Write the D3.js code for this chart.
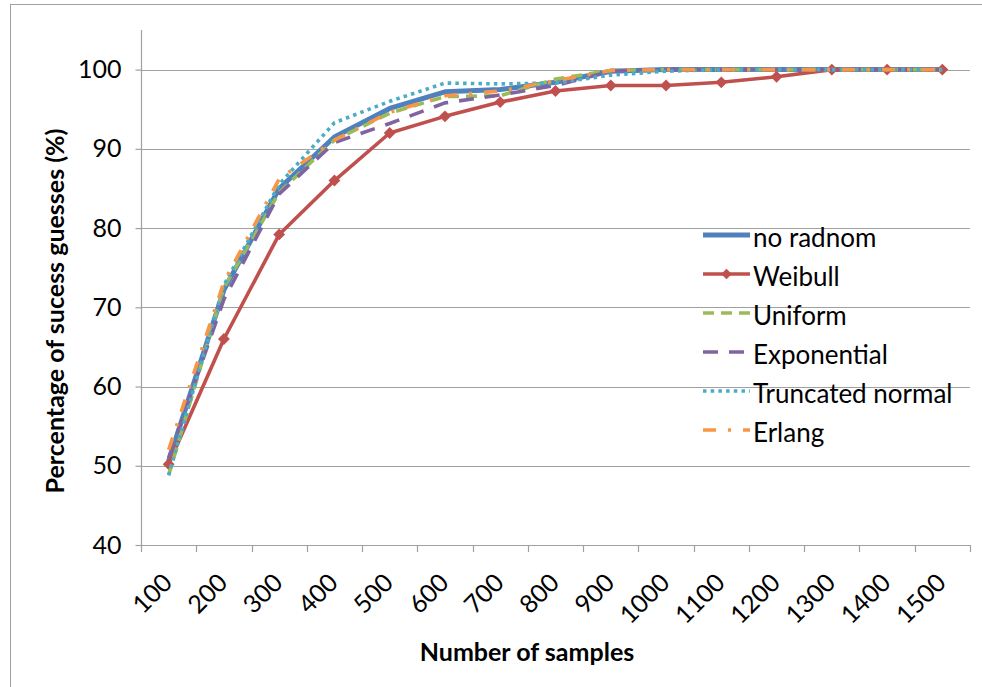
<!DOCTYPE html>
<html>
<head>
<meta charset="utf-8">
<script src="https://cdn.jsdelivr.net/npm/d3@7"></script>
<style>
  html, body { margin: 0; padding: 0; background: #ffffff; }
  svg { display: block; }
  text { font-family: Lato, "Open Sans", sans-serif; fill: #000; }
</style>
</head>
<body>
<svg id="chart" width="982" height="687"></svg>
<script>
// Sample sizes along the x axis
const categories = [100, 200, 300, 400, 500, 600, 700, 800, 900, 1000, 1100, 1200, 1300, 1400, 1500];

// Success rate (%) for each randomisation scheme
const noRandom    = [50.6, 72.2, 85.0, 91.5, 95.1, 97.2, 97.5, 98.4, 99.8, 100, 100, 100, 100, 100, 100];
const weibull     = [50.2, 66.0, 79.2, 86.0, 92.0, 94.1, 95.9, 97.3, 98.0, 98.0, 98.4, 99.1, 100, 100, 100];
const uniform     = [48.8, 72.5, 84.5, 91.1, 94.5, 96.6, 96.7, 98.8, 99.9, 100, 100, 100, 100, 100, 100];
const exponential = [51.0, 71.0, 84.3, 90.8, 93.2, 95.8, 96.8, 98.0, 99.8, 100, 100, 100, 100, 100, 100];
const truncNormal = [48.8, 72.8, 85.5, 93.3, 96.0, 98.3, 98.2, 98.3, 99.3, 99.8, 100, 100, 100, 100, 100];
const erlang      = [52.0, 73.2, 86.2, 91.1, 94.6, 96.7, 97.3, 98.6, 99.9, 100, 100, 100, 100, 100, 100];

const seriesNames = ["no radnom", "Weibull", "Uniform", "Exponential", "Truncated normal", "Erlang"];
const yTicks = [40, 50, 60, 70, 80, 90, 100];

const seriesStyle = [
  { color: "#4F81BD", width: 5,   dash: null },
  { color: "#C0504D", width: 3.6, dash: null, marker: true },
  { color: "#9BBB59", width: 3.6, dash: "11,7" },
  { color: "#8064A2", width: 3.6, dash: "15,11" },
  { color: "#4BACC6", width: 3.6, dash: "3.5,4.2" },
  { color: "#F79646", width: 3.6, dash: "13,12,3,12" }
];
const seriesValues = [noRandom, weibull, uniform, exponential, truncNormal, erlang];

const svg = d3.select("#chart");

// Chart frame
svg.append("rect")
  .attr("x", 10.5).attr("y", 4.5)
  .attr("width", 1000).attr("height", 700)
  .attr("fill", "#fff").attr("stroke", "#a0a0a0").attr("stroke-width", 1);

const plot = { left: 141, right: 970, top: 30, bottom: 545 };

const x = d3.scaleBand().domain(categories).range([plot.left, plot.right]).padding(0);
const y = d3.scaleLinear().domain([40, 105]).range([plot.bottom, plot.top]);
const cx = c => x(c) + x.bandwidth() / 2;

// Horizontal gridlines
svg.append("g").selectAll("line").data(yTicks.filter(t => t > 40)).join("line")
  .attr("x1", plot.left).attr("x2", plot.right)
  .attr("y1", d => Math.round(y(d)) + 0.5).attr("y2", d => Math.round(y(d)) + 0.5)
  .attr("stroke", "#a0a0a0").attr("stroke-width", 1.2);

// Y axis
const yAxis = svg.append("g")
  .attr("transform", `translate(${plot.left + 0.5},0)`)
  .call(d3.axisLeft(y).tickValues(yTicks).tickSize(6).tickPadding(14).tickFormat(d3.format("d")));
yAxis.select(".domain").attr("stroke", "#a0a0a0").attr("stroke-width", 1.2)
  .attr("d", `M-0,${plot.top}V${plot.bottom}`);
yAxis.selectAll(".tick line").attr("stroke", "#a0a0a0").attr("stroke-width", 1.2);
yAxis.selectAll(".tick text")
  .style("font-family", "Lato, sans-serif").style("font-size", "25px").attr("fill", "#000");

// X axis line and tick marks at category boundaries
const xg = svg.append("g");
xg.append("line")
  .attr("x1", plot.left).attr("x2", plot.right)
  .attr("y1", plot.bottom + 0.5).attr("y2", plot.bottom + 0.5)
  .attr("stroke", "#a0a0a0").attr("stroke-width", 1.2);
const edges = categories.map(c => x(c)).concat([x(categories[categories.length - 1]) + x.bandwidth()]);
xg.selectAll("line.tick").data(edges).join("line")
  .attr("class", "tick")
  .attr("x1", d => Math.round(d) + 0.5).attr("x2", d => Math.round(d) + 0.5)
  .attr("y1", plot.bottom).attr("y2", plot.bottom + 7)
  .attr("stroke", "#a0a0a0").attr("stroke-width", 1.2);

// Rotated category labels
xg.selectAll("text").data(categories).join("text")
  .attr("transform", d => `translate(${cx(d) - 1},${578}) rotate(-45)`)
  .attr("text-anchor", "end")
  .attr("dy", "0.35em")
  .style("font-size", "25px")
  .text(d => d);

// Axis titles
svg.append("text")
  .attr("x", 527).attr("y", 661)
  .attr("text-anchor", "middle")
  .style("font-size", "25px").style("font-weight", "bold")
  .text("Number of samples");

svg.append("text")
  .attr("transform", "translate(64,311) rotate(-90)")
  .attr("text-anchor", "middle")
  .style("font-size", "25px").style("font-weight", "bold")
  .text("Percentage of sucess guesses (%)");

// Series lines
const line = d3.line().x((d, i) => cx(categories[i])).y(d => y(d));
const lines = svg.append("g");
seriesValues.forEach((vals, k) => {
  const st = seriesStyle[k];
  lines.append("path")
    .datum(vals)
    .attr("d", line)
    .attr("fill", "none")
    .attr("stroke", st.color)
    .attr("stroke-width", st.width)
    .attr("stroke-linejoin", "round")
    .attr("stroke-dasharray", st.dash);
  if (st.marker) {
    lines.append("g").selectAll("path").data(vals).join("path")
      .attr("d", d3.symbol(d3.symbolSquare, 70)())
      .attr("transform", (d, i) => `translate(${cx(categories[i])},${y(d)}) rotate(45)`)
      .attr("fill", st.color);
  }
});

// Legend
const legend = svg.append("g");
const legendY0 = 235, legendStep = 39;
seriesNames.forEach((name, k) => {
  const st = seriesStyle[k];
  const ly = legendY0 + k * legendStep;
  legend.append("line")
    .attr("x1", 703).attr("x2", 750).attr("y1", ly).attr("y2", ly)
    .attr("stroke", st.color).attr("stroke-width", st.width)
    .attr("stroke-dasharray", st.dash);
  if (st.marker) {
    legend.append("path")
      .attr("d", d3.symbol(d3.symbolSquare, 55)())
      .attr("transform", `translate(726.5,${ly}) rotate(45)`)
      .attr("fill", st.color);
  }
  legend.append("text")
    .attr("x", 753).attr("y", ly + 12)
    .style("font-size", "26px")
    .text(name);
});
</script>
</body>
</html>
